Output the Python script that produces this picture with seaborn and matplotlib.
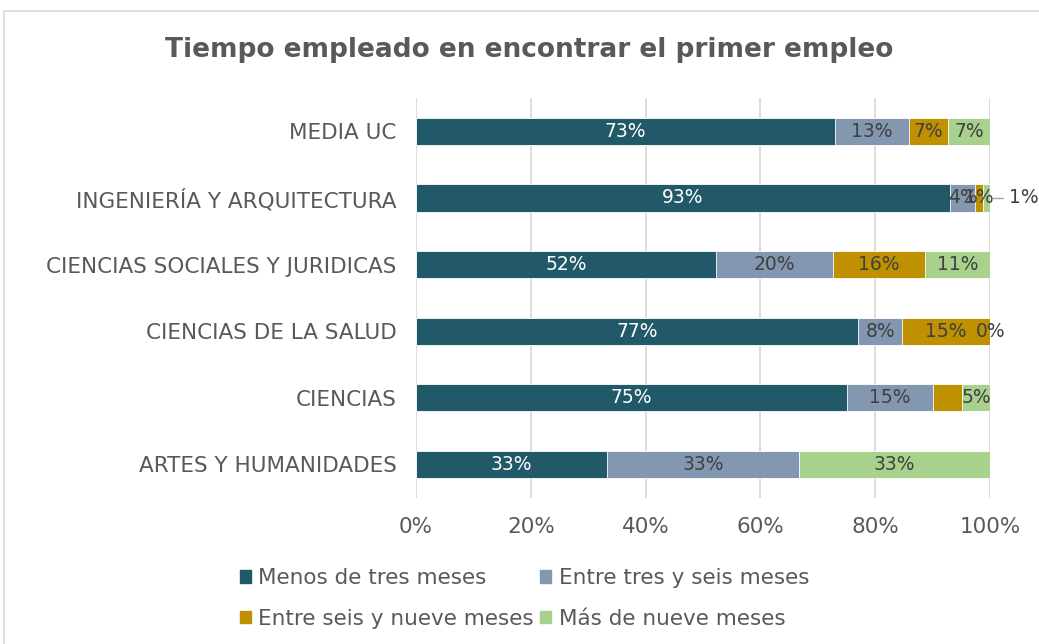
import matplotlib
matplotlib.use("Agg")
import matplotlib.pyplot as plt
import seaborn as sns
import numpy as np
import pandas as pd
from matplotlib.patches import Rectangle

categories = ["MEDIA UC", "INGENIERÍA Y ARQUITECTURA", "CIENCIAS SOCIALES Y JURIDICAS",
              "CIENCIAS DE LA SALUD", "CIENCIAS", "ARTES Y HUMANIDADES"]
series_names = ["Menos de tres meses", "Entre tres y seis meses",
                "Entre seis y nueve meses", "Más de nueve meses"]
menos_tres = [73.0, 93.0, 52.3, 77.0, 75.1, 33.33]
tres_seis = [12.9, 4.4, 20.3, 7.7, 15.0, 33.33]
seis_nueve = [6.8, 1.4, 16.1, 15.3, 5.0, 0.0]
mas_nueve = [7.3, 1.2, 11.3, 0.0, 4.9, 33.34]
label_texts = [
    ["73%", "93%", "52%", "77%", "75%", "33%"],
    ["13%", "4%", "20%", "8%", "15%", "33%"],
    ["7%", "1%", "16%", "15%", "", ""],
    ["7%", "", "11%", "0%", "5%", "33%"],
]
outside_label = {"cat": "INGENIERÍA Y ARQUITECTURA", "text": "1%"}
colors = ["#215968", "#8497B0", "#BF9000", "#A9D18E"]
xticks = [0, 20, 40, 60, 80, 100]

sns.set_theme(style="white")
plt.rcParams['font.family'] = ['DejaVu Sans']

fig = plt.figure(figsize=(10.39, 6.44), dpi=100)
ax = fig.add_axes([0.4004, 0.227, 0.9529 - 0.4004, 0.848 - 0.227])

series = [menos_tres, tres_seis, seis_nueve, mas_nueve]
cum = np.cumsum(np.array(series, dtype=float), axis=0)

for i in range(3, -1, -1):
    df = pd.DataFrame({"cat": categories, "val": cum[i]})
    sns.barplot(data=df, y="cat", x="val", orient="h", color=colors[i],
                width=0.41, ax=ax, edgecolor="white", linewidth=0.6, saturation=1)

for i in range(4):
    for j, cat in enumerate(categories):
        txt = label_texts[i][j]
        if not txt:
            continue
        start = cum[i][j] - series[i][j]
        xc = start + series[i][j] / 2
        ax.text(xc, j, txt, ha="center", va="center", fontsize=13.5,
                color="white" if i == 0 else "#404040")

# outside label with leader line
j = categories.index(outside_label["cat"])
ax.plot([100.5, 102.3], [j, j], color="#A6A6A6", lw=1, clip_on=False)
ax.text(103.3, j, outside_label["text"], ha="left", va="center", fontsize=13.5,
        color="#404040", clip_on=False)

ax.set_xlim(0, 100)
ax.set_ylim(5.5, -0.5)
ax.set_xticks(xticks)
ax.set_xticklabels([f"{t}%" for t in xticks], fontsize=15.5, color="#595959")
ax.tick_params(axis="y", labelsize=15.5, labelcolor="#595959", length=0, pad=14)
ax.tick_params(axis="x", length=0, pad=14)
ax.set_xlabel("")
ax.set_ylabel("")
ax.grid(axis="x", color="#D9D9D9", lw=1.3)
ax.set_axisbelow(True)
for s in ax.spines.values():
    s.set_visible(False)

fig.text(0.509, 0.923, "Tiempo empleado en encontrar el primer empleo",
         ha="center", va="center", fontsize=19, fontweight="bold", color="#595959")

# legend (row-major order like the reference)
handles = [Rectangle((0, 0), 1, 1, color=c) for c in colors]
order = [0, 2, 1, 3]
leg = fig.legend([handles[k] for k in order], [series_names[k] for k in order],
                 loc="center", ncol=2,
                 bbox_to_anchor=(0.505, 0.071), frameon=False, fontsize=15.5,
                 handlelength=0.5, handleheight=0.5, handletextpad=0.35,
                 columnspacing=0.3, labelspacing=0.95)
for t in leg.get_texts():
    t.set_color("#595959")

# chart frame
fig.patches.append(Rectangle((0.004, -0.05), 1.1, 0.983 + 0.05, transform=fig.transFigure,
                             fill=False, edgecolor="#D9D9D9", lw=1.2))

fig.savefig("out.png", dpi=100)
